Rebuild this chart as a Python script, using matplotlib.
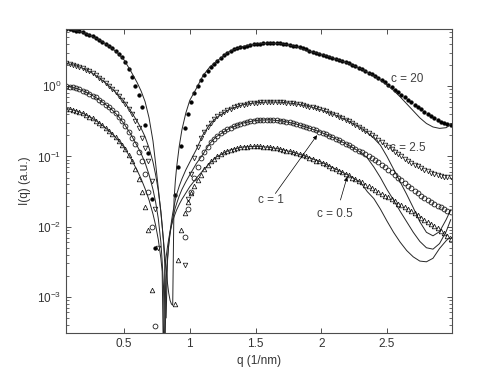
#!/usr/bin/env python3
"""SAXS-like intensity curves I(q) for four concentrations, data markers plus fitted lines."""
import matplotlib
matplotlib.use("Agg")
import matplotlib.pyplot as plt
import numpy as np
from matplotlib.ticker import FixedLocator, FormatStrFormatter

plt.rcParams["font.family"] = ["Liberation Sans", "DejaVu Sans"]
plt.rcParams["mathtext.fontset"] = "custom"
plt.rcParams["mathtext.rm"] = "Liberation Sans"
plt.rcParams["mathtext.it"] = "Liberation Sans:italic"
plt.rcParams["mathtext.default"] = "regular"

nan = np.nan

Q_DATA = np.round(np.arange(0.06, 2.99, 0.025), 3)

LOG_C20 = [
  0.818, 0.812, 0.804, 0.793, 0.780, 0.766, 0.749, 0.730, 0.709, 0.686,
  0.661, 0.633, 0.604, 0.572, 0.538, 0.502, 0.460, 0.410, 0.350, 0.250,
  0.130, 0.000, -0.130, -0.300, -0.550, -0.950, -1.600, -2.300, nan, nan,
  nan, nan, nan, -1.550, -1.150, -0.850, -0.600, -0.400, -0.230, -0.100,
  0.000, 0.090, 0.160, 0.220, 0.275, 0.320, 0.360, 0.400, 0.440, 0.475,
  0.505, 0.525, 0.540, 0.553, 0.565, 0.576, 0.586, 0.595, 0.602, 0.607,
  0.611, 0.614, 0.616, 0.616, 0.614, 0.611, 0.606, 0.599, 0.591, 0.580,
  0.568, 0.555, 0.540, 0.524, 0.508, 0.493, 0.478, 0.463, 0.449, 0.435,
  0.420, 0.405, 0.390, 0.375, 0.360, 0.343, 0.325, 0.306, 0.286, 0.265,
  0.243, 0.220, 0.195, 0.170, 0.144, 0.117, 0.088, 0.055, 0.020, -0.015,
  -0.050, -0.085, -0.120, -0.155, -0.190, -0.225, -0.260, -0.295, -0.330, -0.360,
  -0.390, -0.420, -0.450, -0.480, -0.505, -0.525, -0.543, -0.555,
]
LOG_C25 = [
  0.325, 0.317, 0.306, 0.293, 0.276, 0.258, 0.236, 0.211, 0.184, 0.154,
  0.121, 0.086, 0.047, 0.006, -0.038, -0.085, -0.134, -0.190, -0.250, -0.320,
  -0.400, -0.490, -0.600, -0.730, -0.880, -1.070, -1.350, -1.750, -2.300, nan,
  nan, nan, nan, nan, nan, nan, -2.550, -1.600, -1.250, -1.020,
  -0.860, -0.740, -0.650, -0.580, -0.520, -0.470, -0.430, -0.395, -0.365, -0.340,
  -0.320, -0.300, -0.285, -0.272, -0.261, -0.252, -0.244, -0.238, -0.233, -0.229,
  -0.226, -0.224, -0.223, -0.223, -0.224, -0.226, -0.229, -0.233, -0.238, -0.244,
  -0.251, -0.259, -0.268, -0.278, -0.289, -0.301, -0.314, -0.328, -0.343, -0.359,
  -0.376, -0.394, -0.413, -0.433, -0.454, -0.476, -0.500, -0.525, -0.551, -0.578,
  -0.606, -0.635, -0.665, -0.696, -0.728, -0.760, -0.795, -0.830, -0.865, -0.900,
  -0.935, -0.968, -1.000, -1.030, -1.060, -1.088, -1.115, -1.140, -1.165, -1.188,
  -1.210, -1.230, -1.248, -1.264, -1.277, -1.287, -1.294, -1.298,
]
LOG_C1 = [
  0.000, -0.007, -0.017, -0.030, -0.045, -0.063, -0.083, -0.106, -0.132, -0.160,
  -0.190, -0.224, -0.260, -0.300, -0.340, -0.385, -0.440, -0.500, -0.570, -0.650,
  -0.730, -0.820, -0.930, -1.070, -1.250, -1.500, -2.000, -3.420, nan, nan,
  nan, nan, nan, nan, nan, nan, -2.150, -1.750, -1.500, -1.300,
  -1.150, -1.020, -0.930, -0.860, -0.800, -0.750, -0.710, -0.670, -0.640, -0.610,
  -0.590, -0.570, -0.550, -0.535, -0.520, -0.510, -0.500, -0.490, -0.485, -0.480,
  -0.478, -0.477, -0.478, -0.480, -0.484, -0.490, -0.497, -0.505, -0.515, -0.526,
  -0.538, -0.551, -0.565, -0.580, -0.596, -0.613, -0.630, -0.648, -0.667, -0.687,
  -0.707, -0.728, -0.750, -0.772, -0.795, -0.818, -0.842, -0.866, -0.891, -0.916,
  -0.942, -0.968, -0.995, -1.022, -1.050, -1.085, -1.120, -1.155, -1.190, -1.225,
  -1.265, -1.300, -1.340, -1.380, -1.420, -1.450, -1.490, -1.520, -1.560, -1.590,
  -1.620, -1.650, -1.670, -1.700, -1.720, -1.750, -1.770, -1.790,
]
LOG_C05 = [
  -0.317, -0.325, -0.336, -0.349, -0.366, -0.384, -0.406, -0.431, -0.458, -0.488,
  -0.521, -0.556, -0.595, -0.635, -0.679, -0.726, -0.775, -0.830, -0.900, -0.980,
  -1.070, -1.180, -1.320, -1.500, -1.720, -2.050, -2.900, nan, nan, nan,
  nan, nan, nan, -3.100, -2.480, -2.050, -1.800, -1.650, -1.520, -1.420,
  -1.340, -1.270, -1.180, -1.120, -1.070, -1.030, -0.995, -0.965, -0.940, -0.920,
  -0.905, -0.890, -0.880, -0.870, -0.865, -0.860, -0.857, -0.855, -0.855, -0.857,
  -0.860, -0.865, -0.870, -0.877, -0.885, -0.894, -0.904, -0.915, -0.927, -0.940,
  -0.954, -0.968, -0.983, -1.000, -1.020, -1.040, -1.060, -1.070, -1.090, -1.110,
  -1.130, -1.160, -1.180, -1.200, -1.220, -1.250, -1.270, -1.300, -1.320, -1.350,
  -1.370, -1.400, -1.420, -1.450, -1.480, -1.500, -1.530, -1.560, -1.580, -1.610,
  -1.640, -1.670, -1.690, -1.720, -1.750, -1.780, -1.810, -1.840, -1.870, -1.900,
  -1.930, -1.960, -1.990, -2.020, -2.060, -2.090, -2.130, -2.170,
]

# fitted curves, sampled finer around the form-factor minimum
Q_FIT = [
  0.06, 0.1, 0.15, 0.2, 0.25, 0.3, 0.35, 0.4, 0.45, 0.5,
  0.55, 0.6, 0.63, 0.66, 0.69, 0.72, 0.74, 0.76, 0.78, 0.79,
  0.8, 0.81, 0.82, 0.83, 0.84, 0.85, 0.86, 0.87, 0.88, 0.89,
  0.9, 0.92, 0.94, 0.97, 1.0, 1.05, 1.1, 1.15, 1.2, 1.3,
  1.4, 1.5, 1.6, 1.7, 1.8, 1.9, 2.0, 2.1, 2.2, 2.3,
  2.35, 2.4, 2.45, 2.5, 2.55, 2.6, 2.65, 2.7, 2.75, 2.8,
  2.85, 2.9, 2.95, 2.985,
]
FIT_C20 = [
  0.818, 0.807, 0.785, 0.756, 0.717, 0.671, 0.616, 0.552, 0.477, 0.375,
  0.220, 0.050, -0.070, -0.220, -0.450, -0.780, -1.100, -1.450, -1.800, -2.000,
  -2.200, -2.400, -2.600, -2.800, -2.950, -3.050, -3.100, -3.120, -1.620, -1.350,
  -1.150, -0.850, -0.620, -0.380, -0.200, -0.030, 0.150, 0.270, 0.350, 0.495,
  0.565, 0.600, 0.615, 0.605, 0.570, 0.505, 0.455, 0.395, 0.330, 0.250,
  0.200, 0.150, 0.090, 0.020, -0.060, -0.150, -0.250, -0.350, -0.450, -0.530,
  -0.580, -0.600, -0.590, -0.545,
]
FIT_C25 = [
  0.325, 0.311, 0.283, 0.245, 0.195, 0.135, 0.063, -0.019, -0.113, -0.220,
  -0.350, -0.500, -0.600, -0.720, -0.880, -1.080, -1.260, -1.480, -1.780, -1.980,
  -2.220, -2.550, -3.300, -2.500, -2.250, -2.070, -1.930, -1.810, -1.710, -1.620,
  -1.540, -1.420, -1.320, -1.190, -1.080, -0.900, -0.690, -0.550, -0.450, -0.330,
  -0.265, -0.235, -0.223, -0.228, -0.248, -0.284, -0.337, -0.405, -0.490, -0.590,
  -0.660, -0.740, -0.840, -1.000, -1.180, -1.360, -1.540, -1.730, -1.930, -2.080,
  -2.130, -2.070, -1.900, -1.760,
]
FIT_C1 = [
  0.000, -0.013, -0.039, -0.075, -0.121, -0.178, -0.245, -0.320, -0.412, -0.535,
  -0.680, -0.850, -0.960, -1.090, -1.260, -1.470, -1.650, -1.880, -2.220, -2.500,
  -2.850, -4.000, -2.750, -2.450, -2.250, -2.100, -1.980, -1.880, -1.800, -1.730,
  -1.670, -1.560, -1.470, -1.360, -1.260, -1.100, -0.970, -0.820, -0.720, -0.600,
  -0.525, -0.487, -0.477, -0.494, -0.533, -0.590, -0.657, -0.740, -0.832, -0.940,
  -1.020, -1.150, -1.300, -1.470, -1.620, -1.780, -1.930, -2.080, -2.210, -2.300,
  -2.320, -2.240, -2.070, -1.900,
]
FIT_C05 = [
  -0.317, -0.331, -0.359, -0.397, -0.447, -0.507, -0.579, -0.662, -0.755, -0.870,
  -1.020, -1.200, -1.320, -1.460, -1.620, -1.820, -1.980, -2.180, -2.450, -2.640,
  -4.000, -2.620, -2.430, -2.290, -2.170, -2.070, -1.990, -1.920, -1.860, -1.810,
  -1.760, -1.680, -1.610, -1.520, -1.430, -1.310, -1.200, -1.100, -1.010, -0.910,
  -0.866, -0.855, -0.868, -0.900, -0.948, -1.010, -1.080, -1.170, -1.260, -1.370,
  -1.500, -1.600, -1.750, -1.920, -2.080, -2.220, -2.340, -2.430, -2.490, -2.500,
  -2.450, -2.310, -2.200, -2.140,
]

SERIES = [
  ("c = 20", LOG_C20, FIT_C20, dict(marker="o", ms=2.7, mfc="k", mec="k", mew=0.3)),
  ("c = 2.5", LOG_C25, FIT_C25, dict(marker="v", ms=3.3, mfc="none", mec="0.1", mew=0.55)),
  ("c = 1", LOG_C1, FIT_C1, dict(marker="o", ms=3.5, mfc="none", mec="0.05", mew=0.55)),
  ("c = 0.5", LOG_C05, FIT_C05, dict(marker="^", ms=3.3, mfc="none", mec="0.05", mew=0.55)),
]


def main() -> None:
  fig = plt.figure(figsize=(4.78, 3.74), dpi=100)
  ax = fig.add_axes([0.138, 0.1096, 0.808, 0.813])

  q_fit = np.array(Q_FIT)
  for _, logs, fit, style in SERIES:
    ax.plot(Q_DATA, 10.0 ** np.array(logs), linestyle="none", **style)
    ax.plot(q_fit, 10.0 ** np.array(fit), color="0.15", lw=0.7)

  ax.set_yscale("log")
  ax.set_xlim(0.058, 2.996)
  ax.set_ylim(3.06e-4, 6.55)
  ax.xaxis.set_major_locator(FixedLocator([0.5, 1.0, 1.5, 2.0, 2.5]))
  ax.xaxis.set_major_formatter(FormatStrFormatter("%g"))
  ax.tick_params(which="both", direction="in", top=True, right=True,
                 labelsize=8.5, colors="0.2")
  ax.tick_params(which="major", length=3.5, width=0.6)
  ax.tick_params(which="minor", length=2, width=0.5)
  for spine in ax.spines.values():
    spine.set_color("0.3")
    spine.set_linewidth(0.8)

  ax.set_xlabel("q (1/nm)", fontsize=8.5, color="0.2", labelpad=4)
  ax.set_ylabel("I(q) (a.u.)", fontsize=8.5, color="0.2", labelpad=4)

  text_style = dict(fontsize=8.5, color="0.25", ha="center", va="center")
  ax.text(2.657, 10 ** 0.10, "c = 20", **text_style)
  ax.text(2.657, 10 ** -0.88, "c = 2.5", **text_style)
  ax.text(1.62, 10 ** -1.62, "c = 1", **text_style)
  ax.text(2.10, 10 ** -1.82, "c = 0.5", **text_style)

  arrow = dict(arrowstyle="-|>", lw=0.5, color="k", mutation_scale=6, shrinkA=0, shrinkB=0)
  ax.annotate("", xy=(1.968, 10 ** -0.697), xytext=(1.651, 10 ** -1.527), arrowprops=arrow)
  ax.annotate("", xy=(2.197, 10 ** -1.29), xytext=(2.146, 10 ** -1.62), arrowprops=arrow)

  fig.savefig("out.png", dpi=100)
  plt.close(fig)


if __name__ == "__main__":
  main()
